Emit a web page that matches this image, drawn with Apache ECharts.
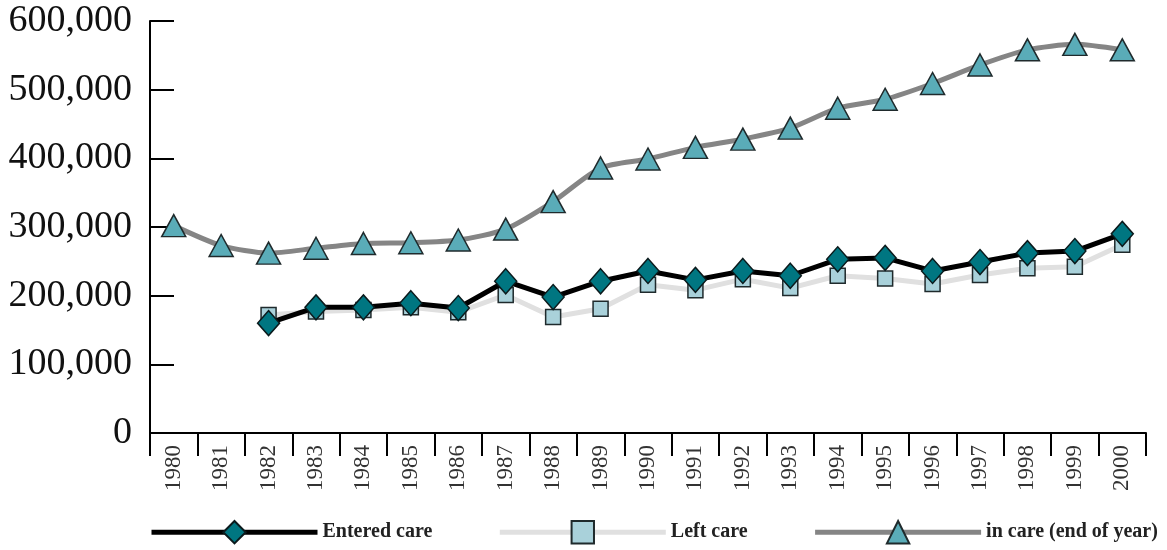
<!DOCTYPE html>
<html>
<head>
<meta charset="utf-8">
<script src="https://cdn.jsdelivr.net/npm/echarts@6/dist/echarts.min.js"></script>
<style>html,body{margin:0;padding:0;background:#fff}#c{width:1167px;height:550px}</style>
</head>
<body>
<div id="c"></div>
<script>
const years = ['1980','1981','1982','1983','1984','1985','1986','1987','1988','1989','1990','1991','1992','1993','1994','1995','1996','1997','1998','1999','2000'];
const enteredCare = [null,null,160000,183000,183000,189000,182000,221000,198000,221000,236000,223000,236000,229000,253000,255000,236000,249000,262000,265000,290000];
const leftCare = [null,null,172000,177000,179000,183000,176000,201000,169000,181000,216000,208000,224000,211000,229000,225000,217000,230000,240000,242000,274000];
const inCare = [302000,273000,262000,269000,276000,277000,281000,297000,337000,386000,399000,416000,428000,444000,473000,486000,509000,536000,558000,566000,558000];
const yTicks = [0,100000,200000,300000,400000,500000,600000];

const serif = '"Liberation Serif", "DejaVu Serif", serif';
const chart = echarts.init(document.getElementById('c'), null, {renderer:'canvas'});
chart.setOption({
  animation: false,
  backgroundColor: '#fff',
  grid: {left: 150, right: 21, top: 21, bottom: 117, containLabel: false},
  legend: {
    data: ['Entered care','Left care','in care (end of year)'],
    left: 144, top: 515,
    itemWidth: 166, itemHeight: 28, itemGap: 65,
    lineStyle: {width: 5},
    textStyle: {fontFamily: serif, fontWeight: 'bold', fontSize: 20, color: '#222'}
  },
  xAxis: {
    type: 'category', data: years, boundaryGap: true,
    axisLine: {lineStyle: {color: '#000', width: 2}},
    axisTick: {show: true, inside: false, length: 23, interval: 0, lineStyle: {color: '#000', width: 2}},
    axisLabel: {rotate: 90, interval: 0, margin: 12, fontFamily: serif, fontSize: 23, color: '#333'},
    splitLine: {show: false}
  },
  yAxis: {
    type: 'value', min: yTicks[0], max: yTicks[yTicks.length-1], interval: 100000,
    axisLine: {show: true, lineStyle: {color: '#000', width: 2}},
    axisTick: {show: true, inside: true, length: 24, lineStyle: {color: '#000', width: 2}},
    axisLabel: {margin: 18, fontFamily: serif, fontSize: 38, color: '#111',
      formatter: v => v.toLocaleString('en-US')},
    splitLine: {show: false}
  },
  series: [
    {
      name: 'Left care', type: 'line', data: leftCare, z: 2,
      symbol: 'rect', symbolSize: 15,
      lineStyle: {color: '#e0e0e0', width: 5},
      itemStyle: {color: '#a9d1da', borderColor: '#1f2a2c', borderWidth: 1.5}
    },
    {
      name: 'in care (end of year)', type: 'line', data: inCare, z: 2, smooth: 0.25,
      symbol: 'triangle', symbolSize: [24, 22],
      lineStyle: {color: '#858585', width: 5},
      itemStyle: {color: '#5aacb8', borderColor: '#1f2a2c', borderWidth: 1.5}
    },
    {
      name: 'Entered care', type: 'line', data: enteredCare, z: 3,
      symbol: 'diamond', symbolSize: [22, 25],
      lineStyle: {color: '#000', width: 5},
      itemStyle: {color: '#007681', borderColor: '#0b1a1c', borderWidth: 1.5}
    }
  ]
});
</script>
</body>
</html>
